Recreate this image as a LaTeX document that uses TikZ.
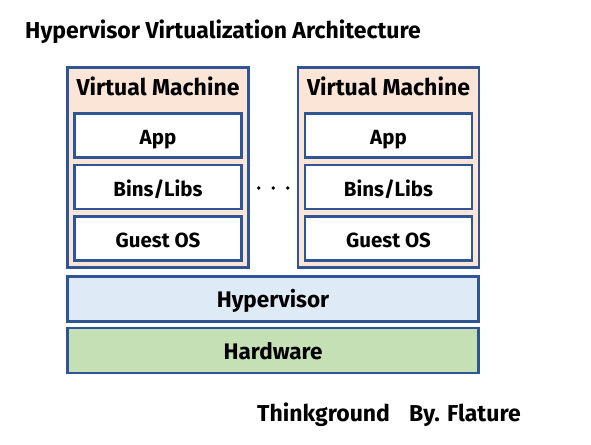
\documentclass[tikz,border=0pt]{standalone}
\usepackage{fontspec}
\setmainfont{Fira Sans}
\usetikzlibrary{calc,positioning}
\definecolor{frameblue}{HTML}{2F5597}
\definecolor{vmfill}{HTML}{FBE5D6}
\definecolor{hyperfill}{HTML}{DEEBF7}
\definecolor{hwfill}{HTML}{C5E0B4}

\begin{document}
\begin{tikzpicture}[
  x=1pt,y=-1pt,
  node distance=5pt,
  box/.style={rectangle,draw=frameblue,line width=2.6pt,inner sep=0pt,text depth=0pt},
  vm/.style={box,fill=vmfill,minimum width=181pt,minimum height=200pt},
  layer/.style={box,fill=white,minimum width=167pt,minimum height=44pt,
    text height=18pt,font=\bfseries\fontsize{20.5}{24}\selectfont},
  base/.style={box,minimum width=411pt,minimum height=45pt,
    text height=17pt,font=\bfseries\fontsize{22.5}{26}\selectfont},
  label/.style={font=\bfseries\fontsize{23}{26}\selectfont,inner sep=0pt},
  ]

  \useasboundingbox (0,0) rectangle (591,444);

  \node (title) [label,anchor=west] at (25,32) {Hypervisor Virtualization Architecture};

  \foreach \i/\x in {1/158,2/388.5}
  {
    \node (vm_\i) [vm] at (\x,167.5) {};
    \node (vm_label_\i) [label] at ($(vm_\i.north)+(0,20.5)$) {Virtual Machine};
    \node (app_\i) [layer] at (\x,135.5) {App};
    \node (bins_\i) [layer,below=of app_\i] {Bins/Libs};
    \node (guest_\i) [layer,below=of bins_\i] {Guest OS};
  }

  % dots between the two machines
  \foreach \d in {0,1,2}
    \fill ($(vm_1.east)!.5!(vm_2.west)+(14.5*\d-14.5,20.5)$) circle (1.8pt);

  \node (hypervisor) [base,fill=hyperfill] at (273,299) {Hypervisor};
  \node (hardware) [base,fill=hwfill,below=4pt of hypervisor] {Hardware};

  \node (ground) [label,anchor=west] at (257,415) {Thinkground};
  \node (author) [label,anchor=west] at (409,415) {By. Flature};

\end{tikzpicture}
\end{document}
